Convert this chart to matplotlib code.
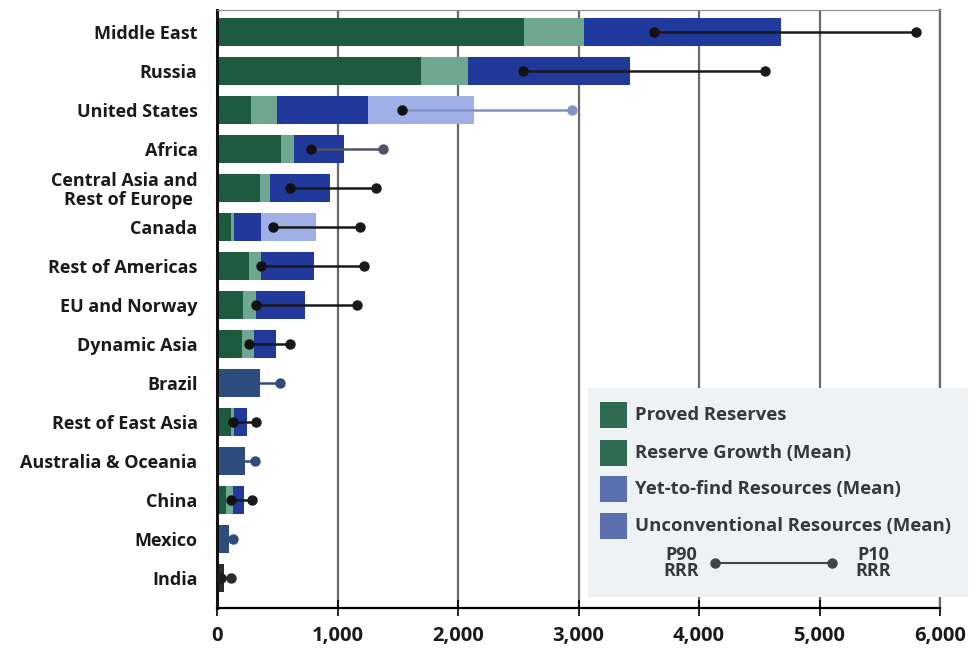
import matplotlib.pyplot as plt
from matplotlib.patches import Rectangle
from matplotlib.lines import Line2D
import numpy as np

plt.rcParams['font.family'] = ['Open Sans', 'DejaVu Sans']
plt.rcParams['font.weight'] = 'bold'

# data (cumulative ends of each stacked segment)
regions = ["Middle East", "Russia", "United States", "Africa",
           "Central Asia and\nRest of Europe ", "Canada", "Rest of Americas",
           "EU and Norway", "Dynamic Asia", "Brazil", "Rest of East Asia",
           "Australia & Oceania", "China", "Mexico", "India"]
proved_end = [2550, 1690, 285, 530, 360, 120, 265, 212, 210, 15, 116, 15, 74, 20, 20]
growth_end = [3045, 2080, 496, 640, 440, 140, 364, 322, 303, 15, 143, 15, 130, 20, 20]
ytf_end = [4680, 3430, 1250, 1050, 940, 364, 804, 730, 490, 358, 253, 234, 226, 102, 60]
unconv_end = [4680, 3430, 2130, 1050, 940, 818, 804, 730, 490, 358, 253, 234, 226, 102, 60]
p90 = [3630, 2540, 1537, 777, 606, 468, 364, 322, 262, 250, 135, 150, 116, 60, 35]
p10 = [5800, 4545, 2947, 1377, 1322, 1190, 1223, 1163, 606, 523, 322, 317, 289, 130, 116]
ticks = [0, 1000, 2000, 3000, 4000, 5000, 6000]

# styles
c_proved = '#1d5a40'
c_growth = '#6fa790'
c_ytf = '#22399c'
c_unconv = '#a0afe6'
slate = '#2e4c7e'
row_override = {"Brazil": slate, "Australia & Oceania": slate, "Mexico": slate, "India": '#2b2b2b'}
whisker_col = {"United States": '#8393c2', "Africa": '#4f5466'}

fig = plt.figure(figsize=(9.72, 6.55), dpi=100)
ax = fig.add_axes([217/972, 1-608/655, (940-217)/972, (608-10)/655])

n = len(regions)
y = np.arange(n)
bh = 0.73
starts = [np.zeros(n), np.array(proved_end), np.array(growth_end), np.array(ytf_end)]
ends = [np.array(proved_end), np.array(growth_end), np.array(ytf_end), np.array(unconv_end)]
cols = [c_proved, c_growth, c_ytf, c_unconv]
for s, e, c in zip(starts, ends, cols):
    colors = []
    for r in regions:
        colors.append(row_override.get(r, c))
    ax.barh(y, e - s, left=s, height=bh, color=colors, zorder=2)

for i, r in enumerate(regions):
    wc = whisker_col.get(r, row_override.get(r, '#1a1a1a'))
    dc = row_override.get(r, '#111111')
    if r == "India":
        dc = '#1a1a1a'
    ax.plot([p90[i], p10[i]], [i, i], color=wc, lw=1.8, zorder=3)
    ax.plot(p10[i], i, 'o', color=wc, ms=6.5, zorder=4)
    ax.plot(p90[i], i, 'o', color=dc, ms=6.5, zorder=4)

ax.set_xlim(0, 6000)
ax.set_ylim(14 + 30/39, -22/39)
ax.set_xticks(ticks)
ax.set_xticklabels([f"{t:,}" for t in ticks], fontsize=14.5, color='#1a1a1a')
ax.set_yticks(y)
ax.set_yticklabels(regions, fontsize=13, color='#1a1a1a', linespacing=1.05)
ax.tick_params(axis='y', length=0, pad=14)
ax.tick_params(axis='x', direction='inout', length=12, width=1.2, pad=7)
ax.set_axisbelow(True)
ax.grid(axis='x', color='#6a6a6a', lw=1.6, zorder=0)
ax.spines['left'].set_linewidth(2.2)
ax.spines['left'].set_color('#111111')
ax.spines['bottom'].set_linewidth(1.6)
ax.spines['top'].set_color('#8a8a8a')
ax.spines['right'].set_color('#6a6a6a')
ax.spines['right'].set_linewidth(1.6)

# legend box
W, H = 972, 655
def fx(px):
    return px / W
def fy(py):
    return 1 - py / H

fig.add_artist(Rectangle((fx(588), fy(597)), fx(968) - fx(588), fy(388) - fy(597),
                         transform=fig.transFigure, facecolor='#eef2f4', edgecolor='none', zorder=5))
leg_labels = ["Proved Reserves", "Reserve Growth (Mean)",
              "Yet-to-find Resources (Mean)", "Unconventional Resources (Mean)"]
leg_cols = ['#2f6b52', '#2f6b52', '#5b6fae', '#5b6fae']
leg_y = [415, 453, 489, 526]
for lab, c, ly in zip(leg_labels, leg_cols, leg_y):
    fig.add_artist(Rectangle((fx(600), fy(ly + 13)), fx(627) - fx(600), fy(ly - 13) - fy(ly + 13),
                             transform=fig.transFigure, facecolor=c, edgecolor='none', zorder=6))
    fig.text(fx(635), fy(ly), lab, fontsize=13.3, color='#383838', va='center', ha='left', zorder=6)

fig.add_artist(Line2D([fx(715), fx(832)], [fy(563), fy(563)], transform=fig.transFigure,
                      color='#444444', lw=1.5, marker='o', ms=6.5, zorder=6))
fig.text(fx(681), fy(563), "P90\nRRR", fontsize=13, color='#383838', ha='center', va='center',
         linespacing=0.9, zorder=6)
fig.text(fx(873), fy(563), "P10\nRRR", fontsize=13, color='#383838', ha='center', va='center',
         linespacing=0.9, zorder=6)

fig.savefig('out.png', dpi=100)
